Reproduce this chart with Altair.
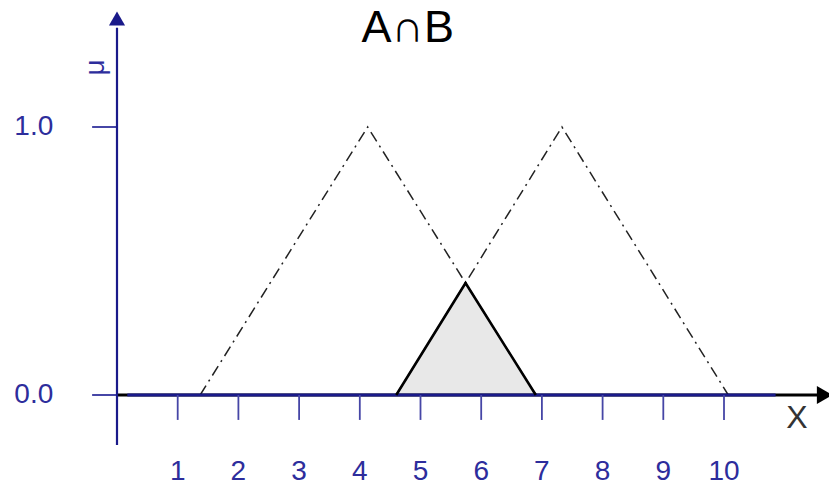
import altair as alt
import pandas as pd

# ---------------- data ----------------
set_a_x = [1.37, 4.13, 6.90]
set_a_mu = [0.0, 1.0, 0.0]
set_b_x = [4.60, 7.33, 10.07]
set_b_mu = [0.0, 1.0, 0.0]
inter_x = [4.60, 5.742, 6.90]
inter_mu = [0.0, 0.418, 0.0]

x_ticks = [1, 2, 3, 4, 5, 6, 7, 8, 9, 10]
x_tick_labels = ["1", "2", "3", "4", "5", "6", "7", "8", "9", "10"]
y_ticks = [0.0, 1.0]
y_tick_labels = ["0.0", "1.0"]

title_text = "A\u2229B"
x_label = "X"
y_label = "\u03bc"

# ---------------- layout ----------------
W, H = 821, 478
X0_PX, X_UNIT = 109.0, 60.7
Y0_PX, Y_UNIT = 387.0, 268.0
x_dom = [-X0_PX / X_UNIT, (W - X0_PX) / X_UNIT]
y_dom = [-(H - Y0_PX) / Y_UNIT, Y0_PX / Y_UNIT]

def X(field="x", **kw):
    return alt.X(field, type="quantitative", axis=None,
                 scale=alt.Scale(domain=x_dom, nice=False, zero=False), **kw)

def Y(field="y", **kw):
    return alt.Y(field, type="quantitative", axis=None,
                 scale=alt.Scale(domain=y_dom, nice=False, zero=False), **kw)

NAVY = "#1a1a8a"
LABEL = "#2d2d9c"
TICK = "#4646a6"
FONT = "Liberation Sans"

# fuzzy sets A and B (dash-dot)
df_sets = pd.DataFrame({
    "x": set_a_x + set_b_x,
    "y": set_a_mu + set_b_mu,
    "set": ["A"] * 3 + ["B"] * 3,
    "o": [0, 1, 2, 0, 1, 2],
})
sets = alt.Chart(df_sets).mark_line(
    color="#222222", strokeWidth=1.5, strokeDash=[11, 5, 2, 5]
).encode(x=X(), y=Y(), detail="set:N", order="o:Q")

# intersection fill + outline
df_inter = pd.DataFrame({"x": inter_x, "y": inter_mu, "o": [0, 1, 2]})
inter_fill = alt.Chart(df_inter).mark_area(color="#e8e8e8").encode(
    x=X(), y=Y(), y2=alt.datum(0)
)
inter_line = alt.Chart(df_inter).mark_line(
    color="#000000", strokeWidth=2.6
).encode(x=X(), y=Y(), order="o:Q")

# x axis line (black base, navy overlay) and arrow
df_xaxis_black = pd.DataFrame({"x": [0.0, 11.55], "y": [0.0, 0.0]})
xaxis_black = alt.Chart(df_xaxis_black).mark_line(
    color="#000000", strokeWidth=3
).encode(x=X(), y=Y())
df_xaxis = pd.DataFrame({"x": [0.17, 10.85], "y": [0.0, 0.0]})
xaxis = alt.Chart(df_xaxis).mark_line(color=NAVY, strokeWidth=3).encode(
    x=X(), y=Y()
)
df_xarrow = pd.DataFrame({"x": [11.66], "y": [0.0]})
xarrow = alt.Chart(df_xarrow).mark_point(
    shape="triangle-right", filled=True, color="#000000", opacity=1, size=330
).encode(x=X(), y=Y())

# y axis line and arrow
df_yaxis = pd.DataFrame({"x": [0.0, 0.0], "y": [-0.187, 1.37], "o": [0, 1]})
yaxis = alt.Chart(df_yaxis).mark_line(color=NAVY, strokeWidth=2.2).encode(
    x=X(), y=Y(), order="o:Q"
)
df_yarrow = pd.DataFrame({"x": [0.0], "y": [1.405]})
yarrow = alt.Chart(df_yarrow).mark_point(
    shape="triangle-up", filled=True, color=NAVY, opacity=1, size=260
).encode(x=X(), y=Y())

# ticks
df_xt = pd.DataFrame({"x": x_ticks, "y": [0.0] * len(x_ticks),
                      "y2": [-0.093] * len(x_ticks), "lab": x_tick_labels,
                      "ly": [-0.287] * len(x_ticks)})
xt = alt.Chart(df_xt).mark_rule(color=TICK, strokeWidth=1.8).encode(
    x=X(), y=Y(), y2="y2:Q"
)
xtl = alt.Chart(df_xt).mark_text(
    font=FONT, fontSize=28, color=LABEL, align="center", baseline="middle"
).encode(x=X(), y=Y("ly"), text="lab:N")

df_yt = pd.DataFrame({"x": [-0.41] * len(y_ticks), "x2": [0.0] * len(y_ticks),
                      "y": y_ticks, "lab": y_tick_labels,
                      "lx": [-1.05] * len(y_ticks)})
yt = alt.Chart(df_yt).mark_rule(color=TICK, strokeWidth=2).encode(
    x=X(), x2="x2:Q", y=Y()
)
ytl = alt.Chart(df_yt).mark_text(
    font=FONT, fontSize=28, color=LABEL, align="right", baseline="middle"
).encode(x=X("lx"), y=Y(), text="lab:N")

# texts
df_title = pd.DataFrame({"x": [4.79], "y": [1.317], "t": [title_text]})
title = alt.Chart(df_title).mark_text(
    font=FONT, fontSize=45, color="#000000", align="center",
    baseline="alphabetic"
).encode(x=X(), y=Y(), text="t:N")

df_xl = pd.DataFrame({"x": [11.2], "y": [-0.086], "t": [x_label]})
xl = alt.Chart(df_xl).mark_text(
    font=FONT, fontSize=32, color="#333333", align="center", baseline="middle"
).encode(x=X(), y=Y(), text="t:N")

df_yl = pd.DataFrame({"x": [-0.338], "y": [1.222], "t": [y_label]})
yl = alt.Chart(df_yl).mark_text(
    font=FONT, fontSize=28, color=LABEL, align="center", baseline="middle",
    angle=270
).encode(x=X(), y=Y(), text="t:N")

chart = alt.layer(
    inter_fill, sets, xaxis_black, xaxis, xt, yt, yaxis, inter_line,
    xarrow, yarrow, xtl, ytl, title, xl, yl
).properties(
    width=W, height=H, padding=0,
    autosize=alt.AutoSizeParams(type="none")
).configure_view(stroke=None)

chart.save("out.html", embed_options={"renderer": "svg", "actions": False})
